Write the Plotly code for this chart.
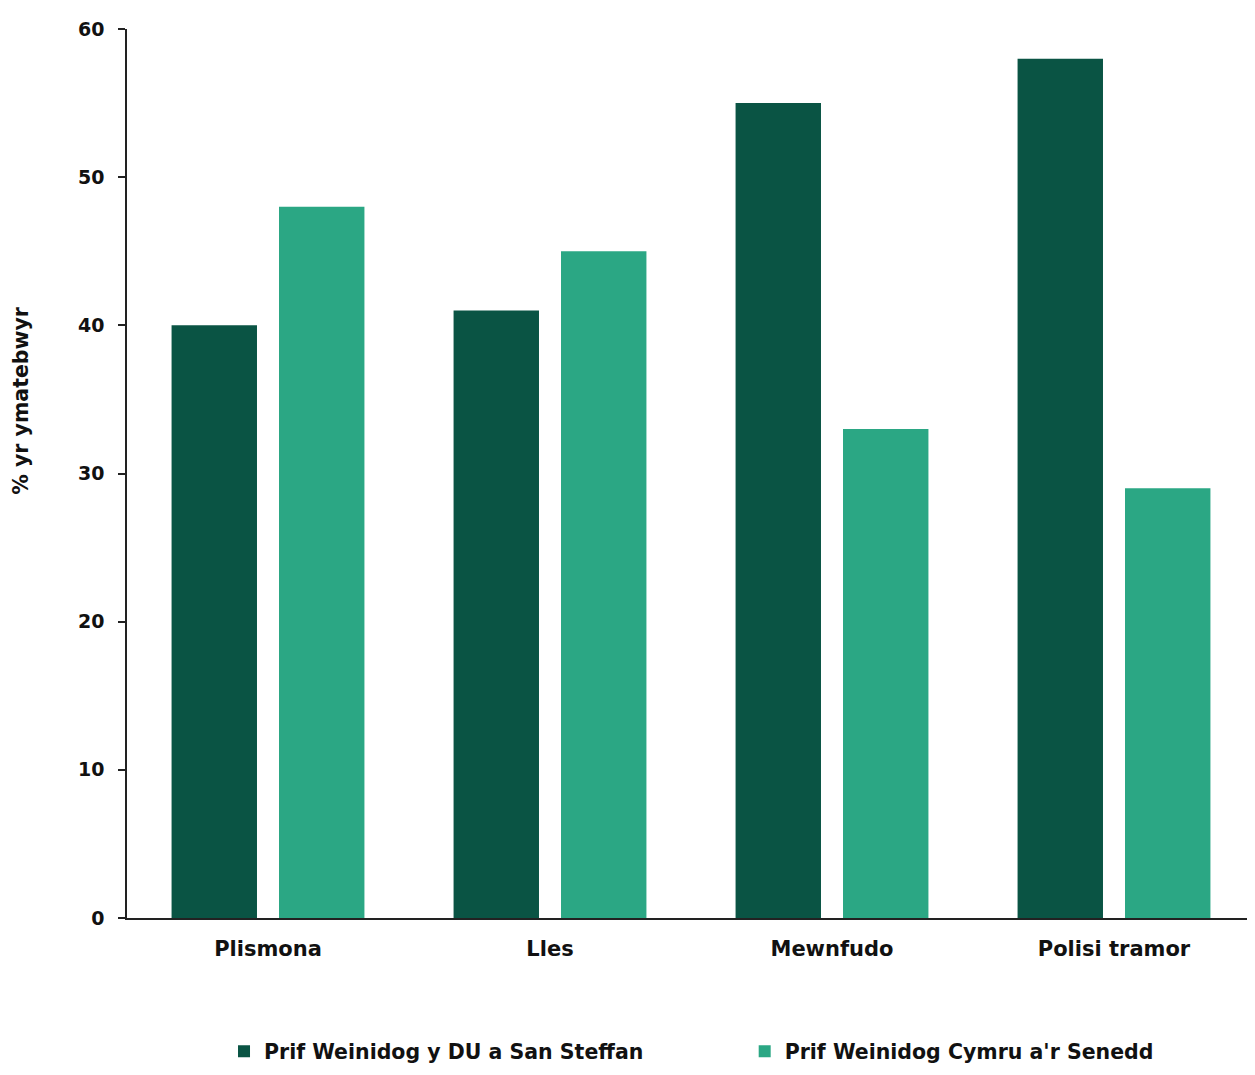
import plotly.graph_objects as go

categories = ["Plismona", "Lles", "Mewnfudo", "Polisi tramor"]
uk_values = [40, 41, 55, 58]
wales_values = [48, 45, 33, 29]
series_names = ["Prif Weinidog y DU a San Steffan", "Prif Weinidog Cymru a'r Senedd"]

FONT = "DejaVu Sans"

fig = go.Figure()
fig.add_trace(go.Bar(x=categories, y=uk_values, name=series_names[0],
                     marker=dict(color="#0A5444", line=dict(width=0)),
                     legend="legend", showlegend=True))
fig.add_trace(go.Bar(x=categories, y=wales_values, name=series_names[1],
                     marker=dict(color="#2BA784", line=dict(width=0)),
                     legend="legend2", showlegend=True))

# y-axis title placed as an annotation (it sits above the axis centre)
fig.add_annotation(
    text="% yr ymatebwyr", textangle=-90,
    xref="paper", yref="paper", x=-0.094, y=0.583,
    xanchor="center", yanchor="middle", showarrow=False,
    font=dict(family=FONT, size=20.5, weight="bold", color="#111111"),
)

legend_style = dict(
    orientation="h", xanchor="left", y=-0.15, yanchor="middle",
    font=dict(family=FONT, size=20.5, weight="bold"),
    itemwidth=30, bgcolor="rgba(0,0,0,0)",
)

fig.update_layout(
    width=1247, height=1067,
    margin=dict(l=119, r=0, t=21, b=157, autoexpand=False),
    plot_bgcolor="white",
    paper_bgcolor="white",
    showlegend=True,
    barmode="group",
    bargap=0.238,
    bargroupgap=0.205,
    font=dict(family=FONT, color="#111111", size=17),
    xaxis=dict(
        showline=True, linecolor="#222222", linewidth=1.5,
        ticks="", showgrid=False, ticklabelstandoff=11,
        tickfont=dict(family=FONT, size=21, weight="bold"),
    ),
    yaxis=dict(
        range=[0, 60], dtick=10,
        showline=True, linecolor="#222222", linewidth=1.5,
        ticks="outside", ticklen=7, tickcolor="#222222", tickwidth=1.5,
        showgrid=False, zeroline=False, ticklabelstandoff=10,
        tickfont=dict(family=FONT, size=19, weight="bold"),
    ),
    legend=dict(legend_style, x=0.086),
    legend2=dict(legend_style, x=0.5476),
)

fig.write_html("out.html")
